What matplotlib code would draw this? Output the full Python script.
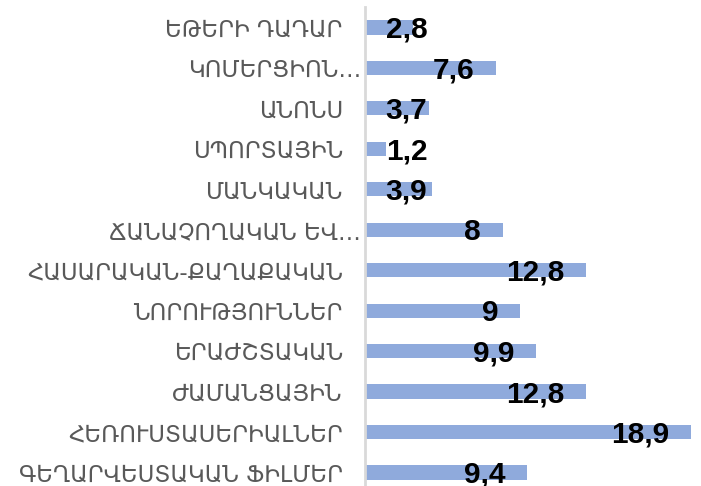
import matplotlib.pyplot as plt
import matplotlib.transforms as mtransforms

categories = ['ԵԹԵՐԻ ԴԱԴԱՐ', 'ԿՈՄԵՐՑԻՈՆ…', 'ԱՆՈՆՍ', 'ՍՊՈՐՏԱՅԻՆ', 'ՄԱՆԿԱԿԱՆ',
              'ՃԱՆԱՉՈՂԱԿԱՆ ԵՎ…', 'ՀԱՍԱՐԱԿԱՆ-ՔԱՂԱՔԱԿԱՆ', 'ՆՈՐՈՒԹՅՈՒՆՆԵՐ',
              'ԵՐԱԺՇՏԱԿԱՆ', 'ԺԱՄԱՆՑԱՅԻՆ', 'ՀԵՌՈՒՍՏԱՍԵՐԻԱԼՆԵՐ', 'ԳԵՂԱՐՎԵՍՏԱԿԱՆ ՖԻԼՄԵՐ']
values = [2.8, 7.6, 3.7, 1.2, 3.9, 8, 12.8, 9, 9.9, 12.8, 18.9, 9.4]

fig = plt.figure(figsize=(7.01, 4.86), dpi=100)
ax = fig.add_axes([365/701, -0.0138, 336/701, 0.9988])

y = range(len(values))
ax.barh(y, values, height=0.35, color='#8faadc')
ax.set_xlim(0, 19.45)
ax.set_ylim(len(values) - 0.5, -0.5)

for i, v in enumerate(values):
    txt = ('%g' % v).replace('.', ',')
    if v < 5:
        ax.text(1.2, i + 0.06, txt, ha='left', va='center', fontsize=21.5,
                fontweight='bold', family='Liberation Sans', color='black')
    else:
        ax.text(v - 1.28, i + 0.06, txt, ha='right', va='center', fontsize=21.5,
                fontweight='bold', family='Liberation Sans', color='black')

ax.set_yticks(list(y))
ax.set_yticklabels(categories, fontsize=16.5, color='#595959', family='DejaVu Sans')
ax.tick_params(axis='y', length=0, pad=16)
ax.set_xticks([])
for lab in ax.get_yticklabels():
    if lab.get_text().endswith('…'):
        lab.set_transform(lab.get_transform() +
                          mtransforms.ScaledTranslation(18/100, 0, fig.dpi_scale_trans))

for s in ['top', 'right', 'bottom']:
    ax.spines[s].set_visible(False)
ax.spines['left'].set_color('#d9d9d9')
ax.spines['left'].set_linewidth(2)

fig.savefig('out.png', dpi=100)
